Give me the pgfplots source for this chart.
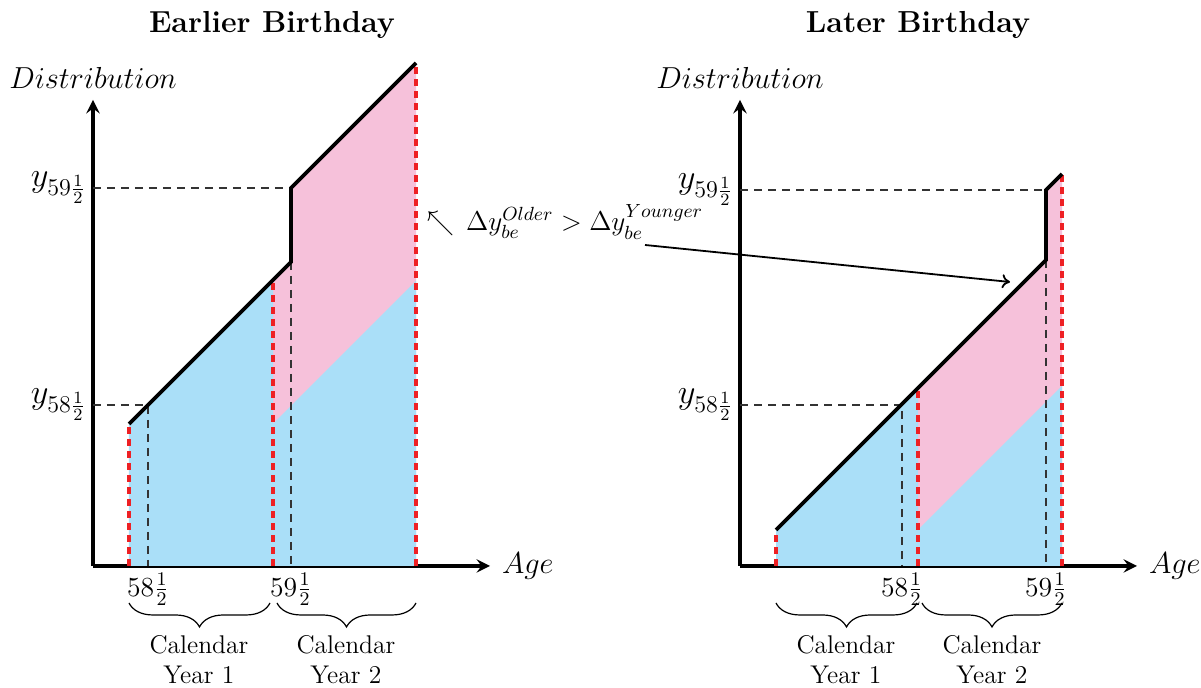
\RequirePackage{fix-cm}
\documentclass[border=0pt]{standalone}
\usepackage{amsmath}
\usepackage{pgfplots}
\pgfplotsset{compat=1.18}
\usetikzlibrary{decorations.pathreplacing,arrows.meta}

\definecolor{fillblue}{RGB}{170,223,248}
\definecolor{fillpink}{RGB}{246,193,218}
\definecolor{dashred}{RGB}{238,32,36}

\newcommand{\labelsize}{\fontsize{15.2}{18}\selectfont}

\pgfplotsset{
  panel/.style={
    x=0.5pt, y=0.5pt,
    xmin=0, xmax=397, ymin=0, ymax=466,
    enlargelimits=false,
    axis lines=left,
    axis line style={line width=1.9pt},
    clip=false,
    major tick length=0pt,
    xticklabel style={font=\fontsize{13.8}{16}\selectfont},
    yticklabel style={font=\fontsize{17.2}{20}\selectfont},
    every axis title/.style={anchor=center, font=\labelsize\bfseries},
    every axis x label/.style={at={(axis cs:402,0)}, anchor=west, font=\labelsize},
    every axis y label/.style={at={(axis cs:0,488)}, anchor=center, font=\labelsize},
    xlabel={$Age$},
    ylabel={$Distribution$},
  },
}
\tikzset{
  redline/.style={dashred, line width=2pt, dash pattern=on 3.5pt off 2.5pt},
  thinline/.style={black!80, line width=0.6pt, dash pattern=on 4pt off 3pt},
  curve/.style={black, line width=1.9pt},
  cal/.style={font=\fontsize{12.8}{15}\selectfont, align=center},
  brc/.style={decorate, decoration={brace, mirror, amplitude=12pt}, line width=0.6pt},
}

\begin{document}
\begin{tikzpicture}
\useasboundingbox (0pt,0pt) rectangle (600.5pt,344pt);

% ---------- Earlier Birthday ----------
\begin{axis}[panel,
    at={(46.5pt,61pt)}, anchor=south west,
    title={Earlier Birthday},
    title style={at={(axis cs:179,541)}},
    xtick={55,198}, xticklabels={$58\frac{1}{2}$,$59\frac{1}{2}$},
    ytick={161,378}, yticklabels={$y_{58\frac{1}{2}}$,$y_{59\frac{1}{2}}$},
]
% calendar year 2, above the shifted curve
\addplot[fill=fillpink, draw=none] coordinates {(180,0) (180,286) (198,304) (198,378) (323,503) (323,0)} -- cycle;
% calendar year 1 and the shifted curve in year 2
\addplot[fill=fillblue, draw=none] coordinates {(36,0) (36,142) (180,286) (180,0)} -- cycle;
\addplot[fill=fillblue, draw=none] coordinates {(180,0) (180,142) (323,285) (323,0)} -- cycle;
% guide lines
\addplot[thinline] coordinates {(0,161) (55,161) (55,0)};
\addplot[thinline] coordinates {(0,378) (198,378)};
\addplot[thinline] coordinates {(198,304) (198,0)};
% year boundaries
\addplot[redline] coordinates {(36,0) (36,142)};
\addplot[redline] coordinates {(180,0) (180,286)};
\addplot[redline] coordinates {(323,0) (323,503)};
% distribution
\addplot[curve] coordinates {(36,142) (198,304) (198,378) (323,503)};

\draw[brc] (axis cs:36,-37) -- (axis cs:177,-37);
\draw[brc] (axis cs:184,-37) -- (axis cs:323,-37);
\node[cal] at (axis cs:106,-94) {Calendar\\Year 1};
\node[cal] at (axis cs:253,-94) {Calendar\\Year 2};
\node[font=\fontsize{13.6}{16}\selectfont] at (axis cs:472,344) {$\nwarrow\,\Delta y_{be}^{Older} > \Delta y_{be}^{Younger}$};
\end{axis}

% ---------- Later Birthday ----------
\begin{axis}[panel,
    at={(370pt,61pt)}, anchor=south west,
    title={Later Birthday},
    title style={at={(axis cs:178,541)}},
    xtick={162,306}, xticklabels={$58\frac{1}{2}$,$59\frac{1}{2}$},
    ytick={161,376}, yticklabels={$y_{58\frac{1}{2}}$,$y_{59\frac{1}{2}}$},
]
\addplot[fill=fillpink, draw=none] coordinates {(178,0) (178,178) (306,306) (306,376) (322,392) (322,0)} -- cycle;
\addplot[fill=fillblue, draw=none] coordinates {(36,0) (36,36) (178,178) (178,0)} -- cycle;
\addplot[fill=fillblue, draw=none] coordinates {(178,0) (178,36) (322,180) (322,0)} -- cycle;
\addplot[thinline] coordinates {(0,161) (162,161) (162,0)};
\addplot[thinline] coordinates {(0,376) (306,376)};
\addplot[thinline] coordinates {(306,306) (306,0)};
\addplot[redline] coordinates {(36,0) (36,36)};
\addplot[redline] coordinates {(178,0) (178,178)};
\addplot[redline] coordinates {(322,0) (322,392)};
\addplot[curve] coordinates {(36,36) (306,306) (306,376) (322,392)};

\draw[brc] (axis cs:36,-37) -- (axis cs:177,-37);
\draw[brc] (axis cs:182,-37) -- (axis cs:322,-37);
\node[cal] at (axis cs:106,-94) {Calendar\\Year 1};
\node[cal] at (axis cs:252,-94) {Calendar\\Year 2};
\draw[-{To[length=4pt,width=7pt]}, line width=0.9pt] (axis cs:-95,321) -- (axis cs:270,284);
\end{axis}
\end{tikzpicture}
\end{document}
